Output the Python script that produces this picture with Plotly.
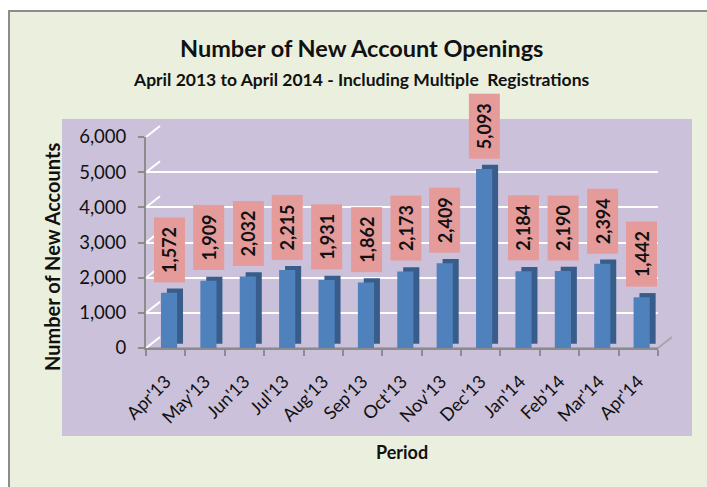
import plotly.graph_objects as go

categories = ["Apr'13", "May'13", "Jun'13", "Jul'13", "Aug'13", "Sep'13", "Oct'13",
              "Nov'13", "Dec'13", "Jan'14", "Feb'14", "Mar'14", "Apr'14"]
values = [1572, 1909, 2032, 2215, 1931, 1862, 2173, 2409, 5093, 2184, 2190, 2394, 1442]
y_ticks = [0, 1000, 2000, 3000, 4000, 5000, 6000]
y_tick_text = ["0", "1,000", "2,000", "3,000", "4,000", "5,000", "6,000"]

title = "Number of New Account Openings"
subtitle = "April 2013 to April 2014 - Including Multiple  Registrations"
y_title = "Number of New Accounts"
x_title = "Period"

FONT = "Lato"
W_IMG, H_IMG = 707, 487
L, R, T, B = 146, 672, 126, 348   # plot area incl. 3D depth
DX, DY = 14, 11                    # depth offset
PW, PH = R - L, B - T

def px(x):
    return (x - L) / PW

def py(y):
    return (B - y) / PH

BLUE = "#4f81bd"
SIDE = "#385d8a"
PINK = "#e69b9b"
LAV = "#ccc1da"
GREEN = "#ebf0de"
GRAY = "#8c8c8c"
TXT = "#111111"

fig = go.Figure()

# side/top faces (behind)
fig.add_trace(go.Bar(x=categories, y=values, base=120, width=0.41, offset=0.03,
                     marker=dict(color=SIDE, line=dict(width=0)), hoverinfo="skip",
                     showlegend=False))
# front faces
fig.add_trace(go.Bar(x=categories, y=values, width=0.41, offset=-0.12,
                     marker=dict(color=BLUE, line=dict(width=0)), showlegend=False))
# dummy for back-wall grid axes
fig.add_trace(go.Scatter(x=[0.5], y=[0], xaxis="x2", yaxis="y2", mode="markers",
                         marker=dict(opacity=0), hoverinfo="skip", showlegend=False))

shapes = [
    dict(type="rect", xref="paper", yref="paper", x0=px(9), x1=px(W_IMG + 10),
         y0=py(H_IMG + 10), y1=py(11), fillcolor=GREEN, line=dict(color=GRAY, width=2),
         layer="below"),
    dict(type="rect", xref="paper", yref="paper", x0=px(62), x1=px(692),
         y0=py(436), y1=py(119), fillcolor=LAV, line=dict(width=0), layer="below"),
    dict(type="path", xref="paper", yref="paper",
         path=f"M {px(L)},{py(B)} L {px(R-DX)},{py(B)} L {px(R)},{py(B-DY)}",
         line=dict(color="#a6a6a6", width=2), layer="below"),
    dict(type="line", xref="paper", yref="paper", x0=px(L), y0=py(B), x1=px(L + DX),
         y1=py(B - DY), line=dict(color="white", width=2), layer="below"),
]
unit_px = (B - DY - T) / 6000.0
for v in y_ticks[1:]:
    yb = B - v * unit_px
    shapes.append(dict(type="line", xref="paper", yref="paper", x0=px(L), y0=py(yb),
                       x1=px(L + DX), y1=py(yb - DY), line=dict(color="white", width=2),
                       layer="below"))

def label(text, x, y, size, angle=0):
    return dict(text=text, x=px(x), y=py(y), xref="paper", yref="paper",
                showarrow=False, xanchor="center", yanchor="middle", textangle=angle,
                font=dict(family=FONT, size=size, color=TXT, weight="bold"))

annotations = [
    label(title, 361, 48, 23.5),
    label(subtitle, 361, 80, 17.5),
    label(y_title, 52, 257, 20, -90),
    label(x_title, 402, 452, 18),
]
for c, v in zip(categories, values):
    annotations.append(dict(text=f"{v:,}", x=c, y=v, xref="x", yref="y", showarrow=False,
                            textangle=-90, xanchor="center", yanchor="bottom",
                            yshift=10, xshift=3.5,
                            bgcolor=PINK, borderpad=0, width=64, height=30,
                            font=dict(family=FONT, size=18, color=TXT, weight="bold")))

fig.update_layout(
    width=W_IMG, height=H_IMG,
    margin=dict(l=L, r=W_IMG - R, t=T, b=H_IMG - B, pad=0),
    paper_bgcolor="white", plot_bgcolor="rgba(0,0,0,0)",
    barmode="overlay", showlegend=False,
    font=dict(family=FONT, color=TXT),
    xaxis=dict(domain=[0, (PW - DX) / PW], type="category", tickson="boundaries",
               ticks="outside", ticklen=6, tickcolor=GRAY, tickwidth=2,
               showline=True, linecolor=GRAY, linewidth=2, showgrid=False,
               tickangle=-45, ticklabelstandoff=14,
               tickfont=dict(family=FONT, size=18, color=TXT)),
    yaxis=dict(domain=[0, (PH - DY) / PH], range=[0, 6000], tickvals=y_ticks,
               ticktext=y_tick_text, ticks="outside", ticklen=6, tickcolor=GRAY,
               tickwidth=2, showline=True, linecolor=GRAY, linewidth=2, showgrid=False,
               zeroline=False, ticklabelstandoff=8,
               tickfont=dict(family=FONT, size=18.5, color=TXT)),
    xaxis2=dict(domain=[DX / PW, 1], range=[0, 1], overlaying="x", anchor="y2",
                visible=False, showgrid=False),
    yaxis2=dict(domain=[DY / PH, 1], range=[0, 6000], overlaying="y", anchor="x2",
                tickvals=y_ticks, showticklabels=False, ticks="", showline=False,
                showgrid=True, gridcolor="white", gridwidth=2, zeroline=False),
    shapes=shapes, annotations=annotations,
)

fig.write_html("out.html", config={"displayModeBar": False},
               post_script="document.body.style.margin='0';document.body.style.overflow='hidden';")
